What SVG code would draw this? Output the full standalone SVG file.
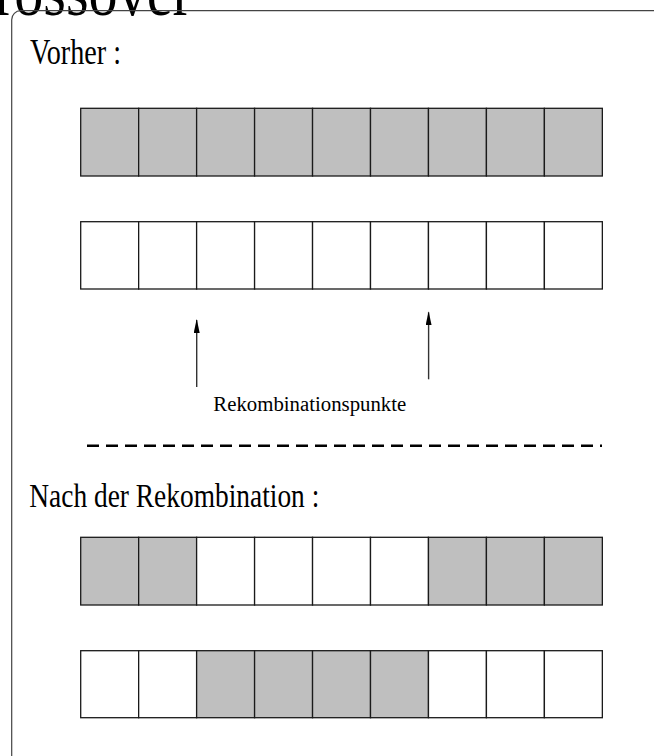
<svg xmlns="http://www.w3.org/2000/svg" width="654" height="756" viewBox="0 0 654 756">
<style>
.t{font-family:"Liberation Serif","Times New Roman",serif;fill:#000}
.c{stroke:#1a1a1a;stroke-width:1.3}
.g{fill:#bfbfbf}
.w{fill:#fff}
.ar{stroke:#333;stroke-width:1.4;fill:none}
</style>
<defs>
<marker id="ah" viewBox="0 0 14 6" refX="13" refY="3" markerWidth="14" markerHeight="6" markerUnits="userSpaceOnUse" orient="auto">
<path d="M14,3 L0,6 L0,0 Z" fill="#000"/>
</marker>
</defs>
<rect width="654" height="756" fill="#fff"/>
<text class="t" x="-44" y="15" font-size="70" textLength="236" lengthAdjust="spacingAndGlyphs">Crossover</text>
<rect id="frame" x="11.7" y="10.7" width="700" height="800" rx="9" fill="none" stroke="#444" stroke-width="1.2"/>
<text id="vorher" class="t" x="30" y="64" font-size="36" textLength="91" lengthAdjust="spacingAndGlyphs">Vorher :</text>
<g id="row1" class="c g">
<rect x="80.7" y="108.3" width="57.96" height="67.7"/>
<rect x="138.66" y="108.3" width="57.96" height="67.7"/>
<rect x="196.62" y="108.3" width="57.96" height="67.7"/>
<rect x="254.58" y="108.3" width="57.96" height="67.7"/>
<rect x="312.54" y="108.3" width="57.96" height="67.7"/>
<rect x="370.5" y="108.3" width="57.96" height="67.7"/>
<rect x="428.46" y="108.3" width="57.96" height="67.7"/>
<rect x="486.42" y="108.3" width="57.96" height="67.7"/>
<rect x="544.38" y="108.3" width="57.96" height="67.7"/>
</g>
<g id="row2" class="c w">
<rect x="80.7" y="221.7" width="57.96" height="67.3"/>
<rect x="138.66" y="221.7" width="57.96" height="67.3"/>
<rect x="196.62" y="221.7" width="57.96" height="67.3"/>
<rect x="254.58" y="221.7" width="57.96" height="67.3"/>
<rect x="312.54" y="221.7" width="57.96" height="67.3"/>
<rect x="370.5" y="221.7" width="57.96" height="67.3"/>
<rect x="428.46" y="221.7" width="57.96" height="67.3"/>
<rect x="486.42" y="221.7" width="57.96" height="67.3"/>
<rect x="544.38" y="221.7" width="57.96" height="67.3"/>
</g>
<g id="connectors">
<line class="ar" x1="196.7" y1="387" x2="196.7" y2="320" marker-end="url(#ah)"/>
<line class="ar" x1="428.6" y1="379.3" x2="428.6" y2="312.3" marker-end="url(#ah)"/>
</g>
<text id="label" class="t" x="213.3" y="410.7" font-size="20" textLength="193" lengthAdjust="spacingAndGlyphs">Rekombinationspunkte</text>
<line id="divider" x1="87" y1="445.7" x2="602" y2="445.7" stroke="#000" stroke-width="2.6" stroke-dasharray="12 7"/>
<text id="nach" class="t" x="29.3" y="507.3" font-size="34" textLength="290" lengthAdjust="spacingAndGlyphs">Nach der Rekombination :</text>
<g id="row3" class="c">
<rect class="g" x="80.7" y="537.3" width="57.96" height="67.7"/>
<rect class="g" x="138.66" y="537.3" width="57.96" height="67.7"/>
<rect class="w" x="196.62" y="537.3" width="57.96" height="67.7"/>
<rect class="w" x="254.58" y="537.3" width="57.96" height="67.7"/>
<rect class="w" x="312.54" y="537.3" width="57.96" height="67.7"/>
<rect class="w" x="370.5" y="537.3" width="57.96" height="67.7"/>
<rect class="g" x="428.46" y="537.3" width="57.96" height="67.7"/>
<rect class="g" x="486.42" y="537.3" width="57.96" height="67.7"/>
<rect class="g" x="544.38" y="537.3" width="57.96" height="67.7"/>
</g>
<g id="row4" class="c">
<rect class="w" x="80.7" y="650.7" width="57.96" height="67"/>
<rect class="w" x="138.66" y="650.7" width="57.96" height="67"/>
<rect class="g" x="196.62" y="650.7" width="57.96" height="67"/>
<rect class="g" x="254.58" y="650.7" width="57.96" height="67"/>
<rect class="g" x="312.54" y="650.7" width="57.96" height="67"/>
<rect class="g" x="370.5" y="650.7" width="57.96" height="67"/>
<rect class="w" x="428.46" y="650.7" width="57.96" height="67"/>
<rect class="w" x="486.42" y="650.7" width="57.96" height="67"/>
<rect class="w" x="544.38" y="650.7" width="57.96" height="67"/>
</g>
</svg>
